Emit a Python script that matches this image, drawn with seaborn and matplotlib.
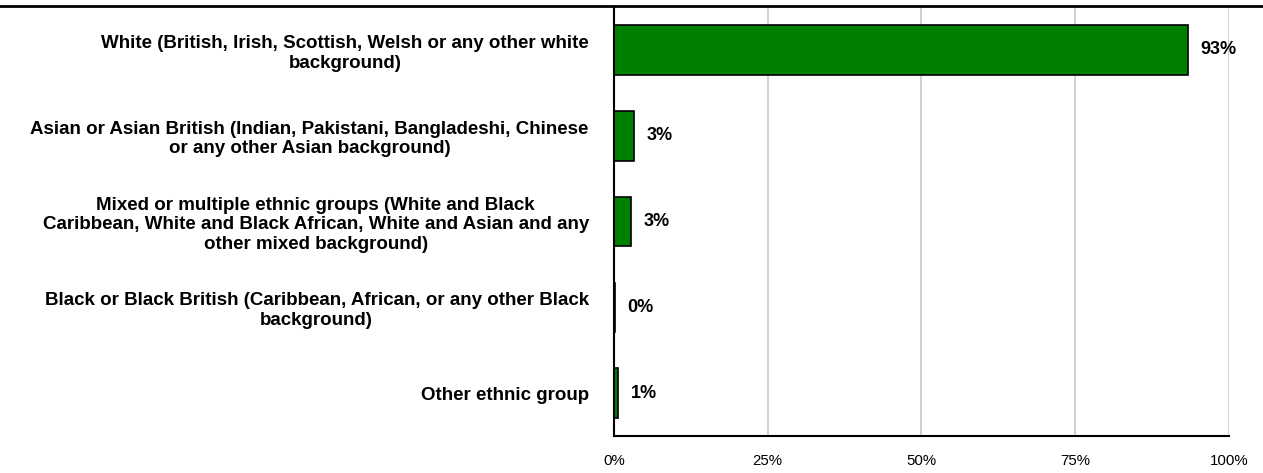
import matplotlib
matplotlib.use("Agg")
import matplotlib.pyplot as plt
import seaborn as sns
import numpy as np
import pandas as pd
from matplotlib.lines import Line2D
from matplotlib.ticker import FixedLocator, PercentFormatter

# Data
groups = [
    "White (British, Irish, Scottish, Welsh or any other white\nbackground)",
    "Asian or Asian British (Indian, Pakistani, Bangladeshi, Chinese\nor any other Asian background)",
    "Mixed or multiple ethnic groups (White and Black\nCaribbean, White and Black African, White and Asian and any\nother mixed background)",
    "Black or Black British (Caribbean, African, or any other Black\nbackground)",
    "Other ethnic group",
]
shares = [93.3, 3.3, 2.8, 0.2, 0.7]
share_labels = ["93%", "3%", "3%", "0%", "1%"]
x_ticks = [0, 25, 50, 75, 100]

df = pd.DataFrame({"group": groups, "share": shares})

# Style
sns.set_style("white")
plt.rcParams["font.family"] = ["Liberation Sans", "DejaVu Sans"]
plt.rcParams["text.color"] = "black"
plt.rcParams["xtick.color"] = "black"
plt.rcParams["ytick.color"] = "black"

fig = plt.figure(figsize=(12.63, 4.73), dpi=100)
ax = fig.add_axes([0.486, 0.078, 0.487, 0.907])

sns.barplot(data=df, x="share", y="group", orient="h", color="#008000",
            edgecolor="black", linewidth=1.2, width=0.58, saturation=1, ax=ax)

ax.set_xlim(0, 100)
ax.set_ylim(len(groups) - 0.5, -0.5)
ax.set_xlabel("")
ax.set_ylabel("")

# grid
ax.set_xticks(x_ticks)
ax.xaxis.set_major_formatter(PercentFormatter(decimals=0))
ax.grid(axis="x", color="#c8c8c8", linewidth=1.2)
ax.grid(axis="y", visible=False)
ax.set_axisbelow(True)

# spines
for s in ["top", "right"]:
    ax.spines[s].set_visible(False)
for s in ["left", "bottom"]:
    ax.spines[s].set_color("black")
    ax.spines[s].set_linewidth(1.5)

# ticks
ax.tick_params(axis="x", which="major", length=3, width=1, direction="out",
               labelsize=10.8, pad=10)
ax.tick_params(axis="y", which="major", length=0, pad=18, labelsize=13.5)
ax.yaxis.set_minor_locator(FixedLocator(np.arange(-0.5, len(groups), 1)))
ax.tick_params(axis="y", which="minor", length=5, width=1.2, direction="out")
for lbl in ax.get_yticklabels():
    lbl.set_fontweight("bold")
    lbl.set_multialignment("center")
    lbl.set_linespacing(1.2)

# value labels
for i, (v, t) in enumerate(zip(shares, share_labels)):
    ax.annotate(t, xy=(v, i), xytext=(9, 0), textcoords="offset points",
                ha="left", va="center", fontsize=13, fontweight="bold")

# top rule across the figure
fig.add_artist(Line2D([0, 1], [0.988, 0.988], transform=fig.transFigure,
                      color="black", linewidth=2))

fig.savefig("out.png", dpi=100)
